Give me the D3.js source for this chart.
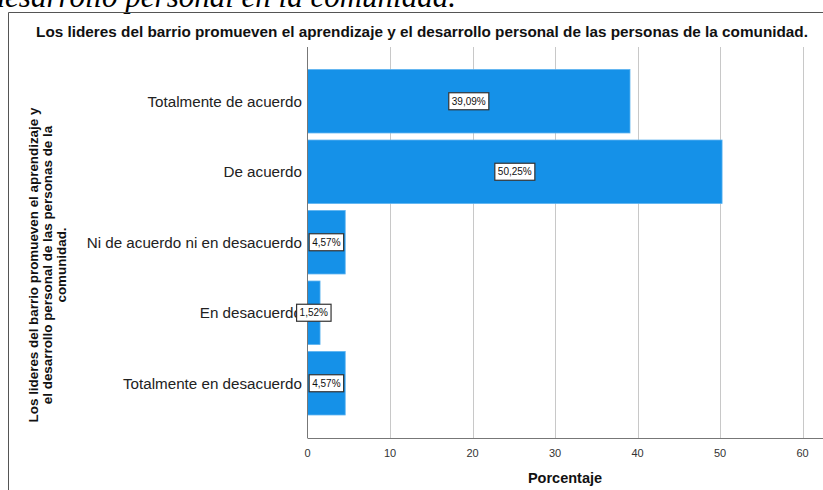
<!DOCTYPE html>
<html>
<head>
<meta charset="utf-8">
<script src="https://cdn.jsdelivr.net/npm/d3@7"></script>
<style>
  body { margin: 0; background: #fff; }
  text { font-family: "Liberation Sans", Arial, sans-serif; }
</style>
</head>
<body>
<script>
// Data
const categories = [
  "Totalmente de acuerdo",
  "De acuerdo",
  "Ni de acuerdo ni en desacuerdo",
  "En desacuerdo",
  "Totalmente en desacuerdo"
];
const percents = [39.09, 50.25, 4.57, 1.52, 4.57];
const xTicks = [0, 10, 20, 30, 40, 50, 60];

const W = 823, H = 490;
const plot = { left: 307.5, right: 823, top: 47, bottom: 438 };

const svg = d3.select("body")
  .append("svg")
  .attr("width", W)
  .attr("height", H);

// caption cut off at the top of the picture
svg.append("text")
  .attr("x", 456)
  .attr("y", 7)
  .attr("text-anchor", "end")
  .style("font-family", "'Liberation Serif', 'Times New Roman', serif")
  .style("font-style", "italic")
  .style("font-size", "31px")
  .attr("fill", "#000")
  .text("desarrollo personal en la comunidad.");

// outer frame (top and left edges)
svg.append("path")
  .attr("d", "M8.5,490 V12.5 H823")
  .attr("fill", "none")
  .attr("stroke", "#555")
  .attr("stroke-width", 1);

// chart title
svg.append("text")
  .attr("x", 422)
  .attr("y", 37)
  .attr("text-anchor", "middle")
  .style("font-weight", "bold")
  .style("font-size", "15.3px")
  .attr("fill", "#111")
  .text("Los lideres del barrio promueven el aprendizaje y el desarrollo personal de las personas de la comunidad.");

// scales
const x = d3.scaleLinear()
  .domain([0, (plot.right - plot.left) / 8.25])
  .range([plot.left, plot.right]);

const y = d3.scaleBand()
  .domain(categories)
  .range([66, 418.5])
  .paddingInner(0.1)
  .paddingOuter(0.05);

// vertical gridlines
svg.append("g")
  .selectAll("line")
  .data(xTicks.slice(1))
  .join("line")
  .attr("x1", d => Math.round(x(d)) + 0.5)
  .attr("x2", d => Math.round(x(d)) + 0.5)
  .attr("y1", plot.top)
  .attr("y2", plot.bottom)
  .attr("stroke", "#c8c8c8")
  .attr("stroke-width", 1);

// bars
svg.append("g")
  .selectAll("rect")
  .data(percents)
  .join("rect")
  .attr("x", x(0))
  .attr("y", (d, i) => y(categories[i]))
  .attr("width", d => x(d) - x(0))
  .attr("height", y.bandwidth())
  .attr("fill", "#1591e8")
  .attr("stroke", "#5ab2f0")
  .attr("stroke-width", 0.8);

// axes
svg.append("line")
  .attr("x1", plot.left).attr("x2", plot.left)
  .attr("y1", plot.top).attr("y2", plot.bottom)
  .attr("stroke", "#777");
svg.append("line")
  .attr("x1", plot.left).attr("x2", plot.right)
  .attr("y1", plot.bottom + 0.5).attr("y2", plot.bottom + 0.5)
  .attr("stroke", "#777");

// x tick labels
svg.append("g")
  .selectAll("text")
  .data(xTicks)
  .join("text")
  .attr("x", d => x(d))
  .attr("y", 457)
  .attr("text-anchor", "middle")
  .style("font-size", "11px")
  .attr("fill", "#333")
  .text(d => d);

// x axis title
svg.append("text")
  .attr("x", 565)
  .attr("y", 483)
  .attr("text-anchor", "middle")
  .style("font-weight", "bold")
  .style("font-size", "14.5px")
  .attr("fill", "#111")
  .text("Porcentaje");

// category labels
svg.append("g")
  .selectAll("text")
  .data(categories)
  .join("text")
  .attr("x", 302)
  .attr("y", d => y(d) + y.bandwidth() / 2 + 5.5)
  .attr("text-anchor", "end")
  .style("font-size", "15.2px")
  .attr("fill", "#222")
  .text(d => d);

// y axis title (rotated, three lines)
const yTitleLines = [
  "Los lideres del barrio promueven el aprendizaje y",
  "el desarrollo personal de las personas de la",
  "comunidad."
];
svg.append("g")
  .attr("transform", "translate(38,265) rotate(-90)")
  .selectAll("text")
  .data(yTitleLines)
  .join("text")
  .attr("x", 0)
  .attr("y", (d, i) => i * 14)
  .attr("text-anchor", "middle")
  .style("font-weight", "bold")
  .style("font-size", "13.4px")
  .attr("fill", "#111")
  .text(d => d);

// value labels in white boxes
const labels = svg.append("g")
  .selectAll("g")
  .data(percents)
  .join("g")
  .attr("transform", (d, i) =>
    "translate(" + ((x(0) + x(d)) / 2) + "," + (y(categories[i]) + y.bandwidth() / 2) + ")");

labels.append("text")
  .attr("text-anchor", "middle")
  .attr("y", 3.5)
  .style("font-size", "10px")
  .attr("fill", "#111")
  .text(d => d.toFixed(2).replace(".", ",") + "%");

labels.each(function() {
  const g = d3.select(this);
  const bb = g.select("text").node().getBBox();
  g.insert("rect", "text")
    .attr("x", bb.x - 3)
    .attr("y", -8.5)
    .attr("width", bb.width + 6)
    .attr("height", 17)
    .attr("fill", "#fff")
    .attr("stroke", "#333")
    .attr("stroke-width", 1.2);
});
</script>
</body>
</html>
